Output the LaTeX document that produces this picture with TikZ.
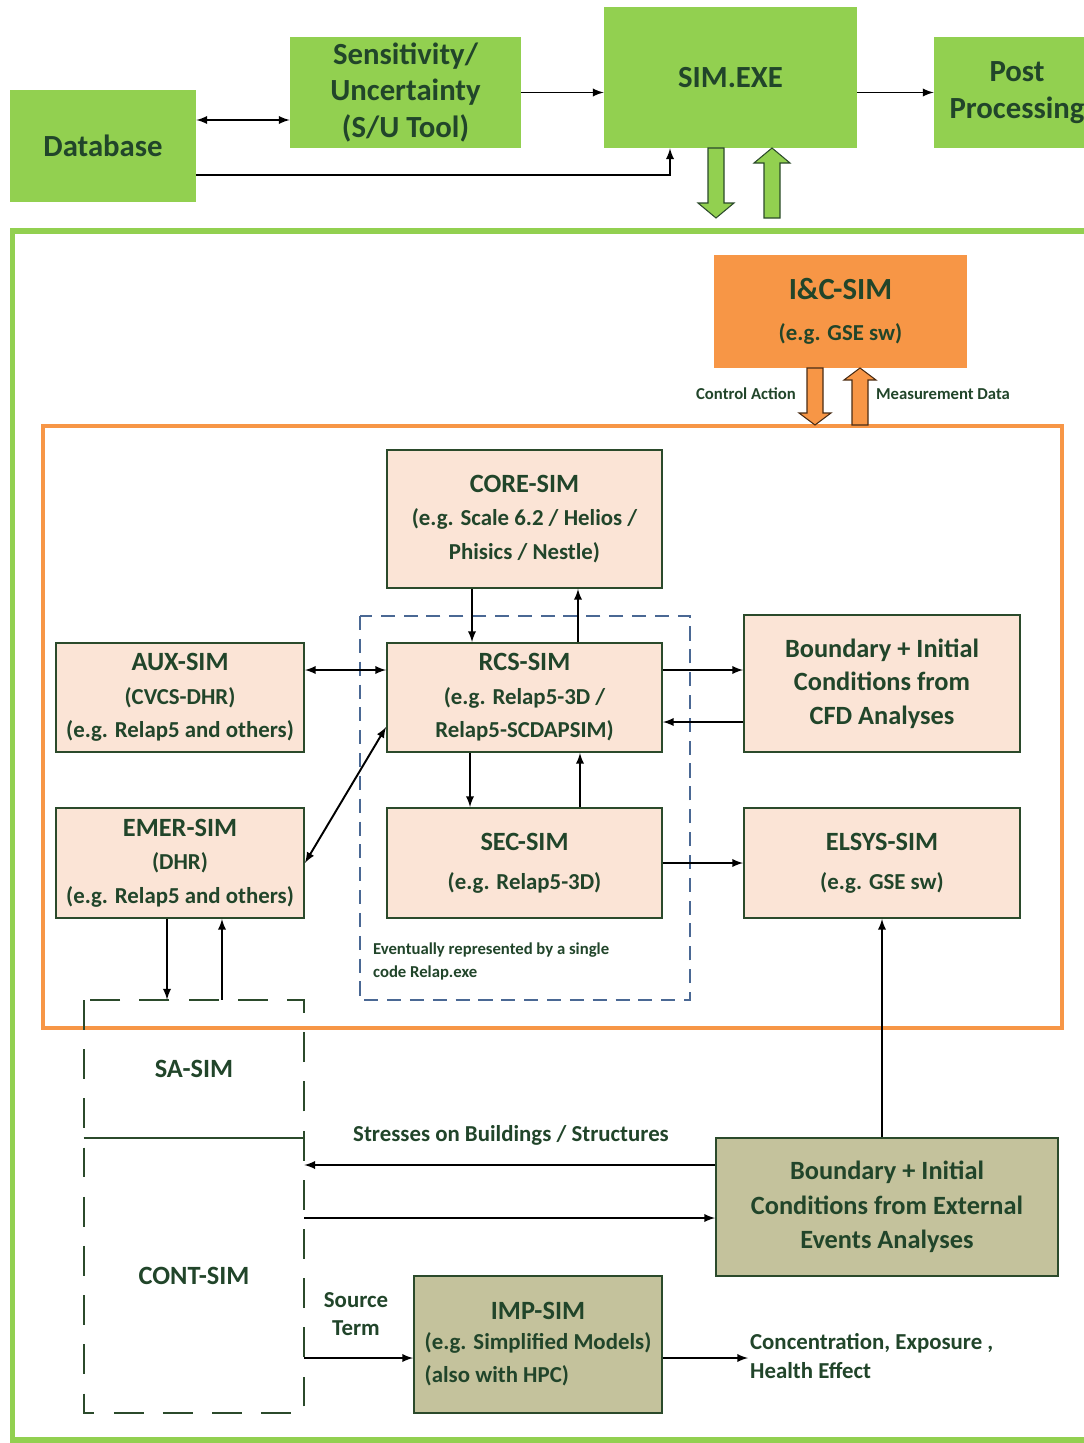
\documentclass[tikz,border=0pt]{standalone}
\usepackage{fontspec}
\setmainfont{Carlito}
\usetikzlibrary{positioning}

\definecolor{simgreen}{HTML}{92D050}
\definecolor{simorange}{HTML}{F79646}
\definecolor{peach}{HTML}{FBE4D6}
\definecolor{olive}{HTML}{C4C29C}
\definecolor{edge}{HTML}{2B4A2B}
\definecolor{txt}{HTML}{21452A}
\definecolor{relapblue}{HTML}{4A6894}

\newcommand{\simtitle}[1]{{\fontsize{15}{19}\selectfont #1}}

\tikzset{
  topbox/.style={fill=simgreen, text=txt, font=\bfseries\fontsize{17.5}{21}\selectfont, align=center, inner sep=0pt},
  simbox/.style={draw=edge, line width=1.1pt, fill=peach, text=txt, font=\bfseries\fontsize{13}{19}\selectfont, align=center, inner sep=0pt},
  extbox/.style={simbox, fill=olive, font=\bfseries\fontsize{15}{19.5}\selectfont},
  lbl/.style={text=txt, font=\bfseries\fontsize{13}{16}\selectfont, align=left, inner sep=1pt},
  small/.style={text=txt, font=\bfseries\fontsize{9.5}{13}\selectfont, align=left, inner sep=1pt},
  arr/.style={-latex, line width=1.1pt},
  dbl/.style={latex-latex, line width=1.1pt},
  fatgreen/.style={fill=simgreen, draw=edge, line width=0.6pt},
  fatorange/.style={fill=simorange, draw=black!70!simorange, line width=0.6pt},
  longdash/.style={draw=edge, line width=1pt, dash pattern=on 17pt off 11pt},
}

\begin{document}
\begin{tikzpicture}[x=0.02cm, y=-0.02cm]
 \clip (0,0) rectangle (1084,1443);
 \fill[white] (0,0) rectangle (1084,1443);

 % top row
 \node[topbox, minimum width=3.72cm, minimum height=2.24cm] (db) at (103,146) {Database};
 \node[topbox, minimum width=4.62cm, minimum height=2.22cm] (su) at (405.5,92.5) {Sensitivity/\\Uncertainty\\(S/U Tool)};
 \node[topbox, minimum width=5.06cm, minimum height=2.82cm] (sim) at (730.5,77.5) {SIM.EXE};
 \node[topbox, minimum width=3.32cm, minimum height=2.22cm] (post) at (1017,92.5) {Post\\Processing};

 \draw[dbl] (db.east |- 0,120) -- (su.west |- 0,120);
 \draw[arr] (su.east) -- (sim.west |- su.east);
 \draw[arr] (sim.east |- post.west) -- (post.west);
 \draw[arr] (db.east |- 0,175) -| ([xshift=-1.21cm]sim.south);

 \draw[fatgreen] (708,148) -- (724,148) -- (724,203) -- (734,203) -- (716,218) -- (698,203) -- (708,203) -- cycle;
 \draw[fatgreen] (764,218) -- (780,218) -- (780,163) -- (790,163) -- (772,148) -- (754,163) -- (764,163) -- cycle;

 % frames
 \draw[simgreen, line width=0.12cm] (12.5,231) rectangle (1100,1440);
 \draw[simorange, line width=0.08cm] (43,426) rectangle (1062,1028);

 % I&C
 \node[topbox, fill=simorange, minimum width=5.06cm, minimum height=2.26cm] (ic) at (840.5,311.5) {I\&C-SIM\\[2pt]{\fontsize{13}{19}\selectfont (e.g. GSE sw)}};
 \draw[fatorange] (807,368) -- (823,368) -- (823,413) -- (831,413) -- (815,425) -- (799,413) -- (807,413) -- cycle;
 \draw[fatorange] (852,425) -- (868,425) -- (868,380) -- (876,380) -- (860,368) -- (844,380) -- (852,380) -- cycle;
 \node[small, anchor=east] (ctrl) at (798,394) {Control Action};
 \node[small, anchor=west] (meas) at (874,394) {Measurement Data};

 % plant simulators
 \draw[relapblue, line width=0.7pt, dash pattern=on 8pt off 5pt] (360,616) rectangle (690,1000);
 \node[small, anchor=north west] (evt) at (371,941) {Eventually represented by a single\\code Relap.exe};

 \node[simbox, minimum width=5.5cm, minimum height=2.76cm] (core) at (524.5,519) {\simtitle{CORE-SIM}\\(e.g. Scale 6.2 / Helios /\\Phisics / Nestle)};
 \node[simbox, minimum width=5.5cm, minimum height=2.18cm] (rcs) at (524.5,697.5) {\simtitle{RCS-SIM}\\(e.g. Relap5-3D /\\Relap5-SCDAPSIM)};
 \node[simbox, minimum width=4.96cm, minimum height=2.18cm] (aux) at (180,697.5) {\simtitle{AUX-SIM}\\(CVCS-DHR)\\(e.g. Relap5 and others)};
 \node[simbox, minimum width=4.96cm, minimum height=2.2cm] (emer) at (180,863) {\simtitle{EMER-SIM}\\(DHR)\\(e.g. Relap5 and others)};
 \node[simbox, minimum width=5.5cm, minimum height=2.2cm] (sec) at (524.5,863) {\simtitle{SEC-SIM}\\[3pt](e.g. Relap5-3D)};
 \node[simbox, font=\bfseries\fontsize{15}{19}\selectfont, minimum width=5.52cm, minimum height=2.74cm] (bcfd) at (882,683.5) {Boundary + Initial\\Conditions from\\CFD Analyses};
 \node[simbox, minimum width=5.52cm, minimum height=2.2cm] (elsys) at (882,863) {\simtitle{ELSYS-SIM}\\[3pt](e.g. GSE sw)};

 \draw[arr] ([xshift=-1.05cm]core.south) -- ([xshift=-1.05cm]core.south |- rcs.north);
 \draw[arr] ([xshift=1.07cm]rcs.north) -- ([xshift=1.07cm]rcs.north |- core.south);
 \draw[dbl] (aux.east |- 0,670) -- (rcs.west |- 0,670);
 \draw[dbl] (emer.east) -- (rcs.west |- 0,727);
 \draw[arr] (rcs.east |- 0,670) -- (bcfd.west |- 0,670);
 \draw[arr] (bcfd.west |- 0,722) -- (rcs.east |- 0,722);
 \draw[arr] ([xshift=-1.09cm]rcs.south) -- ([xshift=-1.09cm]rcs.south |- sec.north);
 \draw[arr] ([xshift=1.11cm]sec.north) -- ([xshift=1.11cm]sec.north |- rcs.south);
 \draw[arr] (sec.east) -- (elsys.west);

 % containment and site
 \node[minimum width=4.4cm, minimum height=2.76cm, inner sep=0pt, text=txt, font=\bfseries\fontsize{15}{19}\selectfont] (sa) at (194,1069) {SA-SIM};
 \node[minimum width=4.4cm, minimum height=5.5cm, inner sep=0pt, text=txt, font=\bfseries\fontsize{15}{19}\selectfont] (cont) at (194,1275.5) {CONT-SIM};
 \draw[longdash] (84,1000) rectangle (304,1413);
 \draw[draw=edge, line width=1.1pt] (sa.south west) -- (sa.south east);

 \draw[arr] ([xshift=-0.26cm]emer.south) -- ([xshift=-0.26cm]emer.south |- sa.north);
 \draw[arr] ([xshift=0.56cm]sa.north) -- ([xshift=0.56cm]sa.north |- emer.south);

 \node[extbox, minimum width=6.84cm, minimum height=2.76cm] (ext) at (887,1207) {Boundary + Initial\\Conditions from External\\Events Analyses};
 \node[extbox, font=\bfseries\fontsize{13}{17}\selectfont, minimum width=4.96cm, minimum height=2.74cm] (imp) at (538,1344.5) {\simtitle{IMP-SIM}\\(e.g. Simplified Models)\\[2pt]\rlap{(also with HPC)}\phantom{(e.g. Simplified Models)}};

 \draw[arr] (elsys.south |- ext.north) -- (elsys.south);
 \draw[arr] (ext.west |- 0,1165) -- (cont.east |- 0,1165);
 \draw[arr] (cont.east |- 0,1218) -- (ext.west |- 0,1218);
 \node[lbl] (stress) at (511,1135) {Stresses on Buildings / Structures};

 \node[lbl, align=center] (src) at (356,1314) {Source\\Term};
 \draw[arr] (cont.east |- 0,1358) -- (imp.west |- 0,1358);

 \node[lbl, anchor=west] (conc) at (748,1356) {Concentration, Exposure ,\\Health Effect};
 \draw[arr] (imp.east |- 0,1358) -- (conc.west |- 0,1358);
\end{tikzpicture}
\end{document}
